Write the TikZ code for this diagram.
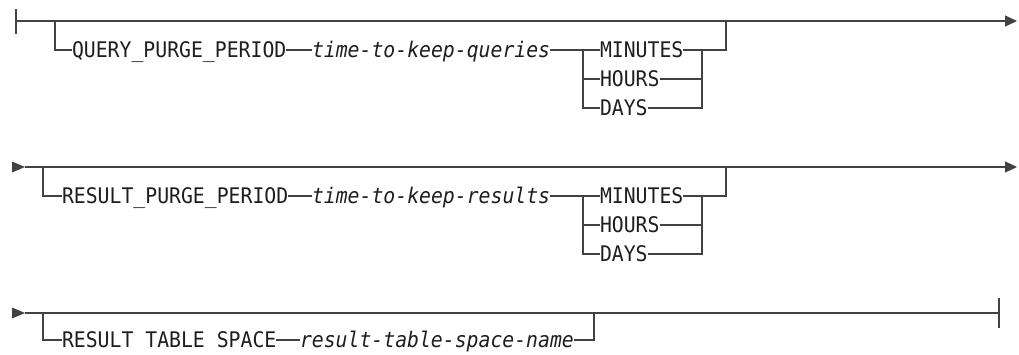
\documentclass[tikz,border=0pt]{standalone}
\usepackage{fontspec}
\newfontfamily\railfont[FakeStretch=0.92]{DejaVu Sans Mono}
\usetikzlibrary{arrows.meta}
\definecolor{railc}{RGB}{66,66,66}
\definecolor{txtc}{RGB}{30,30,30}
\begin{document}
\begin{tikzpicture}[x=1pt,y=-1pt,
  rail/.style={draw=railc,line width=1.1pt},
  endarrow/.style={-{Triangle[length=12pt,width=11pt]}},
  kw/.style={anchor=west,inner sep=0pt,outer sep=0pt,text height=15.6pt,text depth=0pt,
    text=txtc,font=\railfont\fontsize{21.5}{26}\selectfont},
  var/.style={kw,font=\railfont\fontsize{21.5}{26}\selectfont\itshape}]
\useasboundingbox (0,0) rectangle (1019,354);

% ---------- row 1 ----------
\coordinate (s1) at (16,21);
\coordinate (e1) at (1017,21);
\coordinate (b1) at (55,21);
\coordinate (j1) at (726,21);
\coordinate (l1) at (583,50);
\coordinate (r1) at (702,50);
\draw[rail] (16,9) -- (16,34);
\draw[rail,endarrow] (s1) -- (e1);
\node[kw]  (q1) at (72,50)  {QUERY\_PURGE\_PERIOD};
\node[var] (t1) at (312,50) {time-to-keep-queries};
\node[kw]  (m1) at (600,50) {MINUTES};
\node[kw]  (h1) at (600,79) {HOURS};
\node[kw]  (d1) at (600,108) {DAYS};
\draw[rail] (b1) |- (q1.west);
\draw[rail] (q1.east) -- (t1.west);
\draw[rail] (t1.east) -- (m1.west);
\draw[rail] (l1) |- (d1.west);
\draw[rail] (l1 |- h1.west) -- (h1.west);
\draw[rail] (m1.east) -| (j1);
\draw[rail] (h1.east) -- (r1 |- h1.west);
\draw[rail] (d1.east) -| (r1);

% ---------- row 2 ----------
\coordinate (s2) at (25,167);
\coordinate (e2) at (1017,167);
\coordinate (b2) at (43,167);
\coordinate (j2) at (726,167);
\coordinate (l2) at (583,196);
\coordinate (r2) at (702,196);
\fill[railc] (12,161.5) -- (s2) -- (12,172.5) -- cycle;
\draw[rail,endarrow] (s2) -- (e2);
\node[kw]  (q2) at (62,196)  {RESULT\_PURGE\_PERIOD};
\node[var] (t2) at (312,196) {time-to-keep-results};
\node[kw]  (m2) at (600,196) {MINUTES};
\node[kw]  (h2) at (600,225) {HOURS};
\node[kw]  (d2) at (600,254) {DAYS};
\draw[rail] (b2) |- (q2.west);
\draw[rail] (q2.east) -- (t2.west);
\draw[rail] (t2.east) -- (m2.west);
\draw[rail] (l2) |- (d2.west);
\draw[rail] (l2 |- h2.west) -- (h2.west);
\draw[rail] (m2.east) -| (j2);
\draw[rail] (h2.east) -- (r2 |- h2.west);
\draw[rail] (d2.east) -| (r2);

% ---------- row 3 ----------
\coordinate (s3) at (25,313);
\coordinate (e3) at (999,313);
\coordinate (b3) at (43,313);
\coordinate (j3) at (594,313);
\fill[railc] (12,307.5) -- (s3) -- (12,318.5) -- cycle;
\draw[rail] (s3) -- (e3);
\draw[rail] (999,298) -- (999,328);
\node[kw]  (q3) at (62,340)  {RESULT TABLE SPACE};
\node[var] (t3) at (300,340) {result-table-space-name};
\draw[rail] (b3) |- (q3.west);
\draw[rail] (q3.east) -- (t3.west);
\draw[rail] (t3.east) -| (j3);
\end{tikzpicture}
\end{document}
